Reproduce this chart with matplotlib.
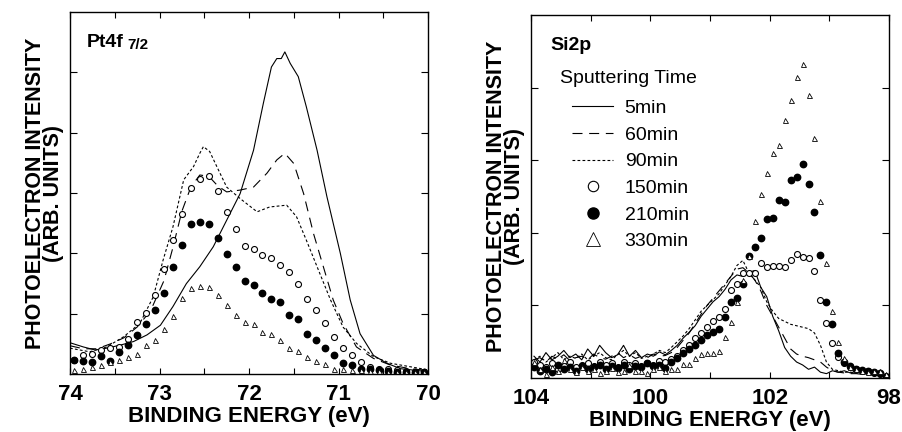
import matplotlib
matplotlib.use("Agg")
import matplotlib.pyplot as plt
from matplotlib.ticker import MultipleLocator

plt.rcParams['font.family'] = ['Liberation Sans', 'DejaVu Sans']

""" Pt4f 7/2 panel """
# lines (5, 60, 90 min) - energy (eV) and intensity (arb.)
pt_5_e = [74.0, 73.85, 73.72, 73.59, 73.44, 73.29, 73.14, 72.99, 72.85, 72.70, 72.55,
          72.40, 72.25, 72.10, 71.95, 71.84, 71.75, 71.69, 71.64, 71.60, 71.54, 71.45,
          71.36, 71.24, 71.13, 70.98, 70.87, 70.76, 70.61, 70.46, 70.31, 70.0]
pt_5_i = [0.52, 0.45, 0.40, 0.43, 0.48, 0.54, 0.65, 0.81, 1.12, 1.50, 1.78,
          2.11, 2.55, 2.99, 3.71, 4.49, 5.09, 5.23, 5.23, 5.34, 5.15, 4.93,
          4.43, 3.71, 2.94, 2.00, 1.23, 0.67, 0.31, 0.18, 0.09, 0.04]

pt_60_e = [74.0, 73.85, 73.7, 73.55, 73.4, 73.25, 73.1, 72.95, 72.85, 72.75, 72.65,
           72.55, 72.45, 72.35, 72.25, 72.1, 71.95, 71.8, 71.69, 71.6, 71.5, 71.39,
           71.28, 71.17, 71.06, 70.95, 70.8, 70.61, 70.42, 70.2, 70.0]
pt_60_i = [0.47, 0.42, 0.42, 0.50, 0.60, 0.78, 1.05, 1.55, 2.10, 2.70, 3.10,
           3.30, 3.28, 3.12, 3.02, 3.05, 3.10, 3.33, 3.55, 3.66, 3.49, 2.99,
           2.33, 1.78, 1.23, 0.84, 0.45, 0.26, 0.15, 0.09, 0.06]

pt_90_e = [74.0, 73.78, 73.59, 73.40, 73.22, 73.07, 72.96, 72.85, 72.73, 72.62, 72.55,
           72.51, 72.44, 72.36, 72.25, 72.10, 71.91, 71.77, 71.58, 71.47, 71.36, 71.24,
           71.09, 70.95, 70.80, 70.61, 70.42, 70.0]
pt_90_i = [0.43, 0.37, 0.45, 0.62, 0.84, 1.28, 1.89, 2.44, 3.22, 3.44, 3.66,
           3.77, 3.69, 3.44, 3.10, 2.91, 2.69, 2.77, 2.80, 2.61, 2.22, 1.78,
           1.23, 0.78, 0.51, 0.29, 0.18, 0.07]

# markers (150, 210, 330 min)
pt_e = [73.95, 73.85, 73.75, 73.65, 73.55, 73.45, 73.35, 73.25, 73.15, 73.05,
        72.95, 72.85, 72.75, 72.65, 72.55, 72.45, 72.35, 72.25, 72.15, 72.05,
        71.95, 71.85, 71.75, 71.65, 71.55, 71.45, 71.35, 71.25, 71.15, 71.05,
        70.95, 70.85, 70.75, 70.65, 70.55, 70.45, 70.35, 70.25, 70.15, 70.05]
pt_150 = [0.24, 0.31, 0.34, 0.40, 0.43, 0.45, 0.58, 0.86, 1.01, 1.31,
          1.75, 2.22, 2.66, 3.09, 3.23, 3.29, 3.04, 2.68, 2.40, 2.12,
          2.07, 1.97, 1.92, 1.81, 1.70, 1.50, 1.25, 1.06, 0.84, 0.62,
          0.43, 0.31, 0.20, 0.12, 0.09, 0.09, 0.07, 0.05, 0.04, 0.02]
pt_210 = [0.23, 0.22, 0.20, 0.30, 0.22, 0.37, 0.48, 0.65, 0.83, 1.06,
          1.34, 1.78, 2.14, 2.49, 2.52, 2.49, 2.25, 1.99, 1.78, 1.55,
          1.48, 1.35, 1.25, 1.20, 0.98, 0.91, 0.67, 0.56, 0.43, 0.31,
          0.19, 0.15, 0.09, 0.08, 0.06, 0.05, 0.04, 0.04, 0.03, 0.03]
pt_330 = [0.07, 0.09, 0.12, 0.15, 0.20, 0.23, 0.28, 0.33, 0.48, 0.56,
          0.74, 0.96, 1.26, 1.42, 1.46, 1.44, 1.31, 1.15, 0.98, 0.87,
          0.83, 0.70, 0.67, 0.56, 0.43, 0.39, 0.29, 0.22, 0.17, 0.08,
          0.08, 0.07, 0.06, 0.05, 0.05, 0.04, 0.04, 0.03, 0.03, 0.03]

""" Si2p panel """
si_e = [103.95, 103.85, 103.75, 103.65, 103.55, 103.45, 103.35, 103.25, 103.15, 103.05,
        102.95, 102.85, 102.75, 102.65, 102.55, 102.45, 102.35, 102.25, 102.15, 102.05,
        101.95, 101.85, 101.75, 101.65, 101.55, 101.45, 101.35, 101.25, 101.15, 101.05,
        100.95, 100.85, 100.75, 100.65, 100.55, 100.45, 100.35, 100.25, 100.15, 100.05,
        99.95, 99.85, 99.75, 99.65, 99.55, 99.45, 99.35, 99.25, 99.15, 99.05,
        98.95, 98.85, 98.75, 98.65, 98.55, 98.45, 98.35, 98.25, 98.15, 98.05]
si_5 = [0.30, 0.22, 0.35, 0.25, 0.30, 0.38, 0.28, 0.33, 0.25, 0.40,
        0.30, 0.45, 0.35, 0.28, 0.32, 0.45, 0.30, 0.38, 0.28, 0.33,
        0.30, 0.36, 0.32, 0.38, 0.45, 0.55, 0.63, 0.72, 0.85, 0.95,
        1.05, 1.12, 1.22, 1.35, 1.42, 1.40, 1.46, 1.48, 1.25, 1.12,
        0.85, 0.65, 0.42, 0.30, 0.22, 0.18, 0.12, 0.15, 0.08, 0.06,
        0.10, 0.08, 0.10, 0.07, 0.09, 0.06, 0.08, 0.05, 0.06, 0.04]
si_60 = [0.25, 0.28, 0.22, 0.30, 0.26, 0.32, 0.24, 0.28, 0.30, 0.25,
         0.33, 0.28, 0.26, 0.30, 0.35, 0.28, 0.32, 0.27, 0.30, 0.28,
         0.33, 0.30, 0.31, 0.35, 0.42, 0.52, 0.62, 0.75, 0.88, 1.00,
         1.10, 1.20, 1.30, 1.40, 1.50, 1.52, 1.45, 1.35, 1.20, 1.00,
         0.85, 0.70, 0.55, 0.40, 0.33, 0.30, 0.28, 0.25, 0.22, 0.15,
         0.10, 0.08, 0.07, 0.06, 0.06, 0.05, 0.05, 0.05, 0.04, 0.04]
si_90 = [0.25, 0.30, 0.22, 0.28, 0.35, 0.25, 0.30, 0.27, 0.33, 0.25,
         0.30, 0.35, 0.28, 0.25, 0.32, 0.38, 0.30, 0.35, 0.27, 0.30,
         0.33, 0.38, 0.35, 0.42, 0.50, 0.58, 0.68, 0.80, 0.92, 1.00,
         1.08, 1.16, 1.28, 1.40, 1.55, 1.62, 1.45, 1.35, 1.25, 1.05,
         0.92, 0.82, 0.78, 0.74, 0.72, 0.70, 0.68, 0.62, 0.45, 0.22,
         0.12, 0.10, 0.08, 0.08, 0.07, 0.07, 0.06, 0.06, 0.05, 0.05]
si_150 = [0.22, 0.18, 0.15, 0.20, 0.12, 0.17, 0.22, 0.15, 0.18, 0.20,
          0.16, 0.22, 0.18, 0.20, 0.15, 0.22, 0.18, 0.20, 0.17, 0.21,
          0.18, 0.24, 0.22, 0.26, 0.31, 0.38, 0.45, 0.55, 0.62, 0.70,
          0.78, 0.84, 0.95, 1.21, 1.30, 1.45, 1.44, 1.44, 1.58, 1.53,
          1.54, 1.54, 1.53, 1.63, 1.71, 1.67, 1.66, 1.48, 1.08, 0.76,
          0.48, 0.29, 0.20, 0.15, 0.12, 0.10, 0.09, 0.07, 0.05, 0.03]
si_210 = [0.15, 0.10, 0.12, 0.08, 0.18, 0.12, 0.15, 0.10, 0.17, 0.13,
          0.15, 0.18, 0.12, 0.16, 0.14, 0.18, 0.12, 0.17, 0.15, 0.20,
          0.16, 0.18, 0.14, 0.22, 0.27, 0.34, 0.40, 0.46, 0.52, 0.59,
          0.63, 0.68, 0.84, 1.05, 1.10, 1.30, 1.68, 1.81, 1.93, 2.19,
          2.21, 2.45, 2.43, 2.73, 2.77, 2.95, 2.67, 2.29, 1.70, 1.05,
          0.74, 0.34, 0.22, 0.17, 0.13, 0.11, 0.10, 0.08, 0.07, 0.02]
si_330 = [0.22, 0.12, 0.06, 0.15, 0.10, 0.25, 0.12, 0.08, 0.15, 0.10,
          0.12, 0.07, 0.10, 0.14, 0.08, 0.10, 0.18, 0.09, 0.10, 0.07,
          0.12, 0.15, 0.10, 0.13, 0.13, 0.19, 0.19, 0.27, 0.33, 0.34,
          0.34, 0.37, 0.56, 0.77, 1.05, 1.35, 1.68, 2.17, 2.53, 2.82,
          3.10, 3.21, 3.56, 3.83, 4.15, 4.33, 3.90, 3.31, 2.44, 1.58,
          0.93, 0.50, 0.27, 0.15, 0.12, 0.10, 0.08, 0.09, 0.10, 0.05]

labels = ["5min", "60min", "90min", "150min", "210min", "330min"]
pt_xticks = [74, 73, 72, 71, 70]
si_xticks = [104, 102, 100, 98]
si_xticklabels = ["104", "100", "102", "98"]

line_kw = dict(color="black", lw=0.8)
dash60 = (0, (9, 6))
dash90 = (0, (2.5, 2))
open_kw = dict(ls="none", marker="o", mfc="white", mec="black", mew=0.8, ms=4.3)
fill_kw = dict(ls="none", marker="o", mfc="black", mec="black", ms=4.6)
tri_kw = dict(ls="none", marker="^", mfc="white", mec="black", mew=0.6, ms=3.6)

fig = plt.figure(figsize=(9.02, 4.32), dpi=100)
ax1 = fig.add_axes([0.0776, 0.134, 0.397, 0.838])
ax2 = fig.add_axes([0.5887, 0.125, 0.397, 0.840])

ax1.plot(pt_5_e, pt_5_i, ls="-", **line_kw)
ax1.plot(pt_60_e, pt_60_i, ls=dash60, **line_kw)
ax1.plot(pt_90_e, pt_90_i, ls=dash90, **line_kw)
ax1.plot(pt_e, pt_150, **open_kw)
ax1.plot(pt_e, pt_210, **fill_kw)
ax1.plot(pt_e, pt_330, **tri_kw)

h = []
h += ax2.plot(si_e, si_5, ls="-", **line_kw)
h += ax2.plot(si_e, si_60, ls=dash60, **line_kw)
h += ax2.plot(si_e, si_90, ls=dash90, **line_kw)
h += ax2.plot(si_e, si_150, **open_kw)
h += ax2.plot(si_e, si_210, **fill_kw)
h += ax2.plot(si_e, si_330, **tri_kw)

ylab = "PHOTOELECTRON INTENSITY\n(ARB. UNITS)"
for ax in (ax1, ax2):
    ax.tick_params(which="both", direction="in", top=True, right=True,
                   labelleft=False, width=0.8)
    ax.tick_params(axis="x", which="both", length=4, pad=7,
                   labelsize=16)
    ax.tick_params(axis="y", length=5)
    for s in ax.spines.values():
        s.set_linewidth(1.0)
    ax.set_xlabel("BINDING ENERGY (eV)", fontsize=16, fontweight="bold", labelpad=1)
    ax.set_ylabel(ylab, fontsize=15.5, fontweight="bold", linespacing=0.8)

ax1.set_xlim(74, 70)
ax1.set_ylim(0, 6)
ax1.set_xticks(pt_xticks)
ax1.set_xticklabels([str(t) for t in pt_xticks], fontweight="bold")
ax1.xaxis.set_minor_locator(MultipleLocator(0.5))
ax1.set_yticks([1, 2, 3, 4, 5])
ax1.yaxis.set_label_coords(-0.018, 0.5)

ax2.set_xlim(104, 98)
ax2.set_ylim(0, 5)
ax2.set_xticks(si_xticks)
ax2.set_xticklabels(si_xticklabels, fontweight="bold")
ax2.xaxis.set_minor_locator(MultipleLocator(1))
ax2.set_yticks([1, 2, 3, 4])
ax2.yaxis.set_label_coords(-0.018, 0.5)

t = ax1.text(0.047, 0.94, "Pt4f", transform=ax1.transAxes, fontsize=14,
             fontweight="bold", ha="left", va="top")
ax1.annotate("7/2", xy=(1, 0), xycoords=t, xytext=(3, -1), textcoords="offset points",
             fontsize=11, fontweight="bold", ha="left", va="bottom")

ax2.text(0.053, 0.94, "Si2p", transform=ax2.transAxes, fontsize=14,
         fontweight="bold", ha="left", va="top")
ax2.text(0.081, 0.826, "Sputtering Time", transform=ax2.transAxes, fontsize=14,
         ha="left", va="center")

leg = ax2.legend(h, labels, loc="upper left", bbox_to_anchor=(0.115, 0.767),
                 frameon=False, fontsize=14, borderpad=0, borderaxespad=0,
                 handlelength=2.1, handletextpad=0.6, labelspacing=0.46,
                 numpoints=1)
mk_sizes = [None, None, None, 7.5, 8, 10]
for hd, ms in zip(leg.legend_handles, mk_sizes):
    if ms:
        hd.set_markersize(ms)

plt.savefig("out.png", dpi=100)
